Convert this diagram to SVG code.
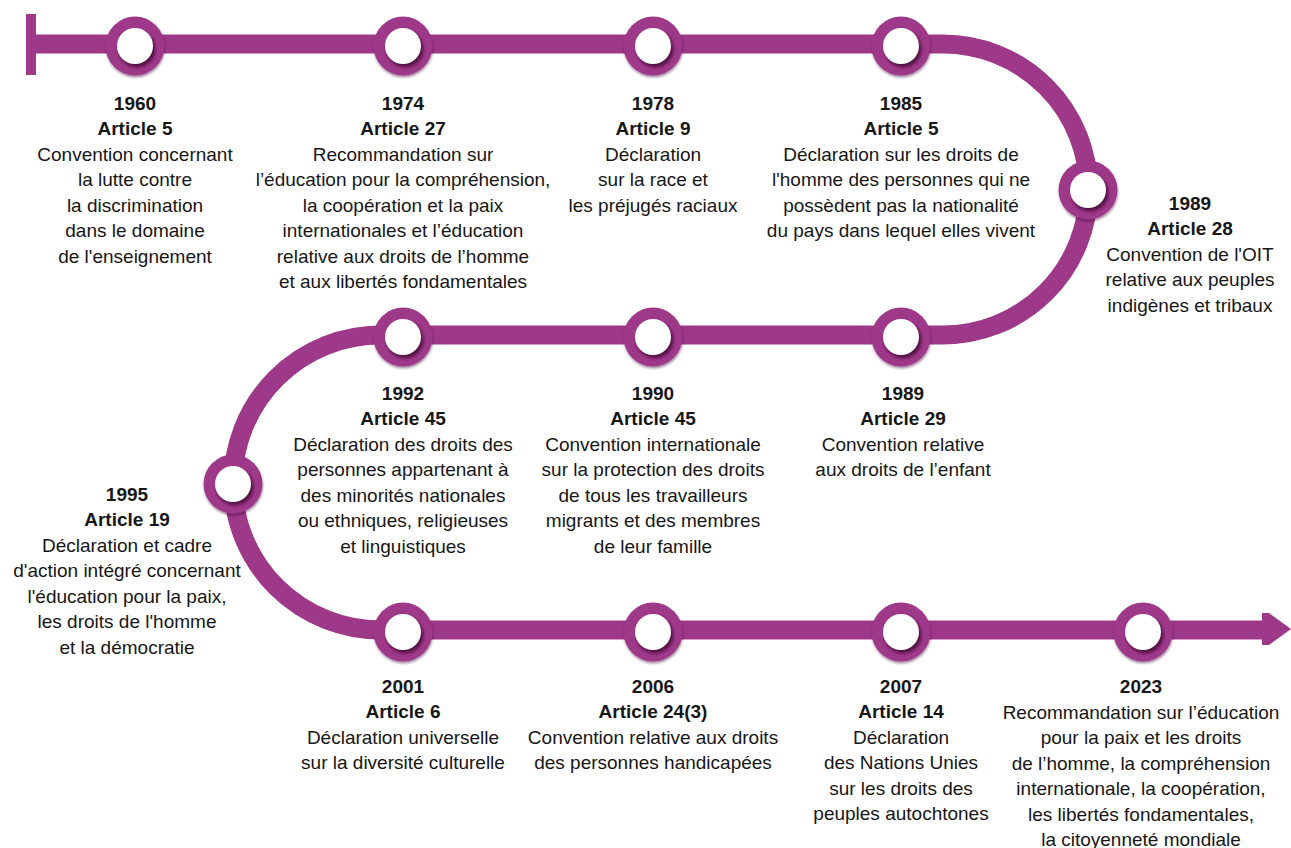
<svg xmlns="http://www.w3.org/2000/svg" width="1291" height="848" viewBox="0 0 1291 848">
<defs>
<style>
.ln{fill:none;stroke:#9E3889;stroke-width:19}
.ring{fill:#9E3889;filter:url(#ds)}
.sh{fill:#4a0c3a;opacity:0.85;filter:url(#bl)}
.hole{fill:#fff}
text{font-family:"Liberation Sans",Arial,sans-serif;font-size:19px;fill:#161616;text-anchor:middle}
.b{font-weight:bold}
</style>
<filter id="ds" x="-30%" y="-30%" width="160%" height="170%"><feDropShadow dx="0.5" dy="2" stdDeviation="1.2" flood-color="#3d0a30" flood-opacity="0.45"/></filter>
<filter id="bl" x="-50%" y="-50%" width="200%" height="200%"><feGaussianBlur stdDeviation="1.6"/></filter>
<g id="node"><circle class="ring" cx="0" cy="0" r="29.5"/><circle class="sh" cx="2" cy="3" r="18.5"/><circle class="hole" cx="0" cy="0" r="18"/></g>
</defs>
<g id="connectors">
<rect x="26" y="14" width="10" height="61" fill="#9E3889"/>
<path class="ln" d="M31 44 H943 A145.5 145.5 0 0 1 943 335 H380.5 A147.5 147.5 0 0 0 380.5 630 H1266"/>
<polygon points="1262,613 1269,613 1291,629 1269,645 1262,645" fill="#9E3889"/>
</g>
<g id="n1960"><use href="#node" x="135" y="46"/>
<text><tspan class="b" x="135" y="110">1960</tspan><tspan class="b" x="135" y="135">Article 5</tspan><tspan x="135" y="161">Convention concernant</tspan><tspan x="135" y="186">la lutte contre</tspan><tspan x="135" y="212">la discrimination</tspan><tspan x="135" y="237">dans le domaine</tspan><tspan x="135" y="263">de l'enseignement</tspan></text></g>
<g id="n1974"><use href="#node" x="403" y="46"/>
<text><tspan class="b" x="403" y="110">1974</tspan><tspan class="b" x="403" y="135">Article 27</tspan><tspan x="403" y="161">Recommandation sur</tspan><tspan x="403" y="186">l’éducation pour la compréhension,</tspan><tspan x="403" y="212">la coopération et la paix</tspan><tspan x="403" y="237">internationales et l’éducation</tspan><tspan x="403" y="263">relative aux droits de l’homme</tspan><tspan x="403" y="288">et aux libertés fondamentales</tspan></text></g>
<g id="n1978"><use href="#node" x="653" y="46"/>
<text><tspan class="b" x="653" y="110">1978</tspan><tspan class="b" x="653" y="135">Article 9</tspan><tspan x="653" y="161">Déclaration</tspan><tspan x="653" y="186">sur la race et</tspan><tspan x="653" y="212">les préjugés raciaux</tspan></text></g>
<g id="n1985"><use href="#node" x="901" y="46"/>
<text><tspan class="b" x="901" y="110">1985</tspan><tspan class="b" x="901" y="135">Article 5</tspan><tspan x="901" y="161">Déclaration sur les droits de</tspan><tspan x="901" y="186">l'homme des personnes qui ne</tspan><tspan x="901" y="212">possèdent pas la nationalité</tspan><tspan x="901" y="237">du pays dans lequel elles vivent</tspan></text></g>
<g id="n1989a"><use href="#node" x="1088" y="190"/>
<text><tspan class="b" x="1190" y="210">1989</tspan><tspan class="b" x="1190" y="235">Article 28</tspan><tspan x="1190" y="261">Convention de l'OIT</tspan><tspan x="1190" y="286">relative aux peuples</tspan><tspan x="1190" y="312">indigènes et tribaux</tspan></text></g>
<g id="n1989b"><use href="#node" x="901" y="337"/>
<text><tspan class="b" x="903" y="400">1989</tspan><tspan class="b" x="903" y="425">Article 29</tspan><tspan x="903" y="451">Convention relative</tspan><tspan x="903" y="476">aux droits de l’enfant</tspan></text></g>
<g id="n1990"><use href="#node" x="653" y="337"/>
<text><tspan class="b" x="653" y="400">1990</tspan><tspan class="b" x="653" y="425">Article 45</tspan><tspan x="653" y="451">Convention internationale</tspan><tspan x="653" y="476">sur la protection des droits</tspan><tspan x="653" y="502">de tous les travailleurs</tspan><tspan x="653" y="527">migrants et des membres</tspan><tspan x="653" y="553">de leur famille</tspan></text></g>
<g id="n1992"><use href="#node" x="403" y="337"/>
<text><tspan class="b" x="403" y="400">1992</tspan><tspan class="b" x="403" y="425">Article 45</tspan><tspan x="403" y="451">Déclaration des droits des</tspan><tspan x="403" y="476">personnes appartenant à</tspan><tspan x="403" y="502">des minorités nationales</tspan><tspan x="403" y="527">ou ethniques, religieuses</tspan><tspan x="403" y="553">et linguistiques</tspan></text></g>
<g id="n1995"><use href="#node" x="233" y="484"/>
<text><tspan class="b" x="127" y="501">1995</tspan><tspan class="b" x="127" y="526">Article 19</tspan><tspan x="127" y="552">Déclaration et cadre</tspan><tspan x="127" y="577">d'action intégré concernant</tspan><tspan x="127" y="603">l'éducation pour la paix,</tspan><tspan x="127" y="628">les droits de l'homme</tspan><tspan x="127" y="654">et la démocratie</tspan></text></g>
<g id="n2001"><use href="#node" x="403" y="632"/>
<text><tspan class="b" x="403" y="693">2001</tspan><tspan class="b" x="403" y="718">Article 6</tspan><tspan x="403" y="744">Déclaration universelle</tspan><tspan x="403" y="769">sur la diversité culturelle</tspan></text></g>
<g id="n2006"><use href="#node" x="653" y="632"/>
<text><tspan class="b" x="653" y="693">2006</tspan><tspan class="b" x="653" y="718">Article 24(3)</tspan><tspan x="653" y="744">Convention relative aux droits</tspan><tspan x="653" y="769">des personnes handicapées</tspan></text></g>
<g id="n2007"><use href="#node" x="901" y="632"/>
<text><tspan class="b" x="901" y="693">2007</tspan><tspan class="b" x="901" y="718">Article 14</tspan><tspan x="901" y="744">Déclaration</tspan><tspan x="901" y="769">des Nations Unies</tspan><tspan x="901" y="795">sur les droits des</tspan><tspan x="901" y="820">peuples autochtones</tspan></text></g>
<g id="n2023"><use href="#node" x="1143" y="632"/>
<text><tspan class="b" x="1141" y="693">2023</tspan><tspan x="1141" y="719">Recommandation sur l’éducation</tspan><tspan x="1141" y="744">pour la paix et les droits</tspan><tspan x="1141" y="770">de l’homme, la compréhension</tspan><tspan x="1141" y="795">internationale, la coopération,</tspan><tspan x="1141" y="821">les libertés fondamentales,</tspan><tspan x="1141" y="846">la citoyenneté mondiale</tspan></text></g>
</svg>
